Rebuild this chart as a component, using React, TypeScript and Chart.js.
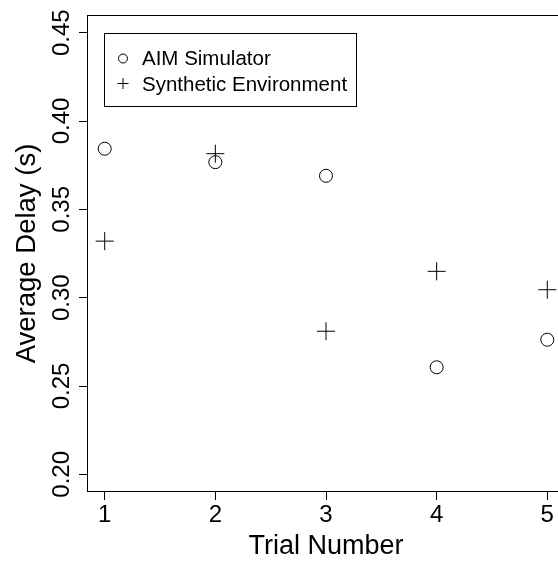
import React, { useEffect, useRef } from "react";
import { Chart, registerables } from "chart.js";

Chart.register(...registerables);

const trials = [1, 2, 3, 4, 5];
const aimSimulator = [0.3843, 0.3767, 0.369, 0.2606, 0.2762];
const syntheticEnv = [0.332, 0.3815, 0.281, 0.3149, 0.3045];
const xTicks = [1, 2, 3, 4, 5];
const yTicks = [0.2, 0.25, 0.3, 0.35, 0.4, 0.45];
const seriesNames = ["AIM Simulator", "Synthetic Environment"];
const xTitle = "Trial Number";
const yTitle = "Average Delay (s)";

const FONT = '"Liberation Sans", Arial, Helvetica, sans-serif';

const drawPlugin = {
  id: "rstyle",
  beforeDatasetsDraw(chart: any) {
    const { ctx, chartArea } = chart;
    ctx.save();
    ctx.strokeStyle = "#000";
    ctx.lineWidth = 1;
    ctx.strokeRect(
      chartArea.left + 0.5,
      chartArea.top + 0.5,
      chartArea.right - chartArea.left - 1,
      chartArea.bottom - chartArea.top - 1
    );
    ctx.restore();
  },
  afterDraw(chart: any) {
    const { ctx, chartArea } = chart;
    const xs = chart.scales.x;
    const ys = chart.scales.y;
    ctx.save();
    ctx.fillStyle = "#000";
    // x tick labels
    ctx.font = `24px ${FONT}`;
    ctx.textAlign = "center";
    ctx.textBaseline = "alphabetic";
    xTicks.forEach((v) => {
      ctx.fillText(String(v), xs.getPixelForValue(v), 521.5);
    });
    // y tick labels (rotated)
    yTicks.forEach((v) => {
      const py = ys.getPixelForValue(v);
      ctx.save();
      ctx.translate(69, py);
      ctx.rotate(-Math.PI / 2);
      ctx.fillText(v.toFixed(2), 0, 0);
      ctx.restore();
    });
    // titles
    ctx.font = `27px ${FONT}`;
    ctx.fillText(xTitle, (chartArea.left + chartArea.right) / 2, 554);
    ctx.save();
    ctx.font = `27.5px ${FONT}`;
    ctx.translate(35, (chartArea.top + chartArea.bottom) / 2);
    ctx.rotate(-Math.PI / 2);
    ctx.fillText(yTitle, 0, 0);
    ctx.restore();

    // legend
    const lx = 104.5;
    const ly = 33.5;
    const lw = 252;
    const lh = 73;
    ctx.strokeStyle = "#000";
    ctx.lineWidth = 1;
    ctx.strokeRect(lx, ly, lw, lh);
    ctx.font = `20.5px ${FONT}`;
    ctx.textAlign = "left";
    // circle
    ctx.beginPath();
    ctx.arc(123, 58.5, 4.5, 0, Math.PI * 2);
    ctx.stroke();
    ctx.fillText(seriesNames[0], 142, 65);
    // plus
    ctx.beginPath();
    ctx.moveTo(117.5, 83.5);
    ctx.lineTo(128.5, 83.5);
    ctx.moveTo(123, 78);
    ctx.lineTo(123, 89);
    ctx.stroke();
    ctx.fillText(seriesNames[1], 142, 90.5);
    ctx.restore();
  },
};

export default function App() {
  const ref = useRef<HTMLCanvasElement | null>(null);
  useEffect(() => {
    if (!ref.current) return;
    const chart = new Chart(ref.current, {
      type: "scatter",
      data: {
        datasets: [
          {
            label: seriesNames[0],
            data: trials.map((t, i) => ({ x: t, y: aimSimulator[i] })),
            pointStyle: "circle",
            pointRadius: 6.5,
            pointHoverRadius: 6.5,
            borderColor: "#000",
            backgroundColor: "rgba(0,0,0,0)",
            borderWidth: 1,
          },
          {
            label: seriesNames[1],
            data: trials.map((t, i) => ({ x: t, y: syntheticEnv[i] })),
            pointStyle: "cross",
            pointRadius: 9,
            pointHoverRadius: 9,
            borderColor: "#000",
            backgroundColor: "rgba(0,0,0,0)",
            borderWidth: 1,
          },
        ],
      },
      options: {
        animation: false,
        responsive: false,
        devicePixelRatio: 1,
        layout: { padding: { left: 0, top: 15, right: 35, bottom: 0 } },
        plugins: {
          legend: { display: false },
          tooltip: { enabled: false },
          title: { display: false },
        },
        events: [],
        scales: {
          x: {
            type: "linear",
            min: 0.84,
            max: 5.16,
            afterBuildTicks: (s: any) => {
              s.ticks = xTicks.map((v) => ({ value: v }));
            },
            afterFit: (s: any) => {
              s.height = 69;
            },
            ticks: { display: false },
            border: { display: false },
            grid: {
              drawOnChartArea: false,
              drawTicks: true,
              tickLength: 8,
              color: "#000",
              lineWidth: 1,
            },
          },
          y: {
            type: "linear",
            min: 0.19,
            max: 0.46,
            afterBuildTicks: (s: any) => {
              s.ticks = yTicks.map((v) => ({ value: v }));
            },
            afterFit: (s: any) => {
              s.width = 87;
            },
            ticks: { display: false },
            border: { display: false },
            grid: {
              drawOnChartArea: false,
              drawTicks: true,
              tickLength: 8,
              color: "#000",
              lineWidth: 1,
            },
          },
        },
      },
      plugins: [drawPlugin],
    });
    return () => chart.destroy();
  }, []);
  return (
    <div
      style={{
        position: "fixed",
        left: 0,
        top: 0,
        width: 558,
        height: 561,
        overflow: "hidden",
        background: "#fff",
      }}
    >
      <canvas
        ref={ref}
        width={600}
        height={561}
        style={{ width: 600, height: 561, display: "block" }}
      />
    </div>
  );
}
